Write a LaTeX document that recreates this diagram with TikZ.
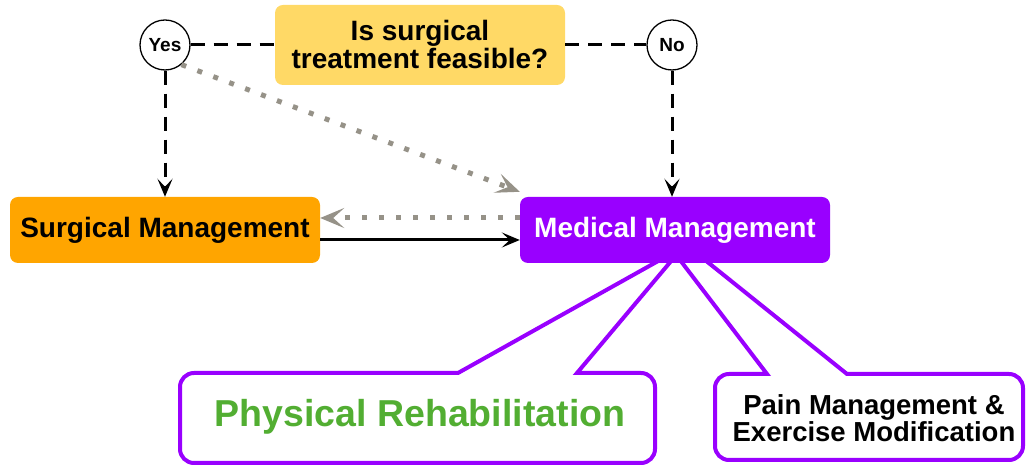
\documentclass[tikz,border=0pt]{standalone}
\usepackage{fontspec}
\setmainfont{Liberation Sans}
\usetikzlibrary{arrows.meta}
\definecolor{qyellow}{RGB}{255,217,102}
\definecolor{qorange}{RGB}{255,165,0}
\definecolor{qpurple}{RGB}{153,0,255}
\definecolor{qgreen}{RGB}{82,174,50}
\definecolor{qgray}{RGB}{150,146,136}
\tikzset{
  boxstyle/.style={rounded corners=8pt, minimum width=310pt, minimum height=66pt, inner sep=0pt, font=\fontsize{28}{28}\selectfont\bfseries},
  choice/.style={circle, draw=black, line width=1.3pt, fill=white, minimum size=50pt, inner sep=0pt, font=\fontsize{19}{19}\selectfont\bfseries},
  dashline/.style={line width=3pt, dash pattern=on 14pt off 9pt, -{Stealth[length=18pt,width=15pt,inset=8pt]}},
  dashplain/.style={line width=3pt, dash pattern=on 14pt off 9pt},
  dotline/.style={qgray, line width=5pt, dash pattern=on 5pt off 12pt, -{Stealth[length=24pt,width=20pt,inset=11pt]}},
  solidline/.style={line width=3pt, -{Stealth[length=18pt,width=15pt,inset=8pt]}},
  callout/.style={draw=qpurple, fill=white, line width=4pt, line join=miter},
}
\begin{document}
\begin{tikzpicture}[x=1pt,y=1pt]
\useasboundingbox (0,0) rectangle (1026,465);
% callouts (drawn first so the Medical box covers the tips)
\draw[callout] (458,92) -- (660,205) -- (672,205) -- (577,92) -- (641,92) arc[start angle=90,end angle=0,radius=14] -- (655,16) arc[start angle=0,end angle=-90,radius=14] -- (194,2) arc[start angle=270,end angle=180,radius=14] -- (180,78) arc[start angle=180,end angle=90,radius=14] -- cycle;
\draw[callout] (767,91) -- (680,205) -- (705,205) -- (847,91) -- (1009,91) arc[start angle=90,end angle=0,radius=14] -- (1023,19) arc[start angle=0,end angle=-90,radius=14] -- (729,5) arc[start angle=270,end angle=180,radius=14] -- (715,77) arc[start angle=180,end angle=90,radius=14] -- cycle;
\node[text=qgreen, font=\fontsize{37.5}{37.5}\selectfont\bfseries] (rehab) at (420,48) {Physical Rehabilitation};
\node[align=center, font=\fontsize{27.5}{27}\selectfont\bfseries] (pain) at (874,47) {Pain Management \&\\Exercise Modification};
% main nodes
\node[boxstyle, fill=qyellow, minimum width=290pt, minimum height=80pt, align=center] (q) at (420,420) {Is surgical\\treatment feasible?};
\node[choice] (yes) at (165,420) {Yes};
\node[choice] (no) at (672,420) {No};
\node[boxstyle, fill=qorange] (surg) at (165,235) {Surgical Management};
\node[boxstyle, fill=qpurple, text=white] (med) at (675,235) {Medical Management};
% connectors
\draw[dashplain] (yes.east) -- (q.west);
\draw[dashplain] (q.east) -- (no.west);
\draw[dashline] (yes.south) -- (yes.south |- surg.north);
\draw[dashline] (no.south) -- (no.south |- med.north);
\draw[dotline] (yes.-50) -- ([yshift=5pt]med.north west);
\draw[dotline] ([yshift=12pt]med.west) -- ([yshift=12pt]surg.east);
\draw[solidline] ([yshift=-10pt]surg.east) -- ([yshift=-10pt]med.west);
\end{tikzpicture}
\end{document}
